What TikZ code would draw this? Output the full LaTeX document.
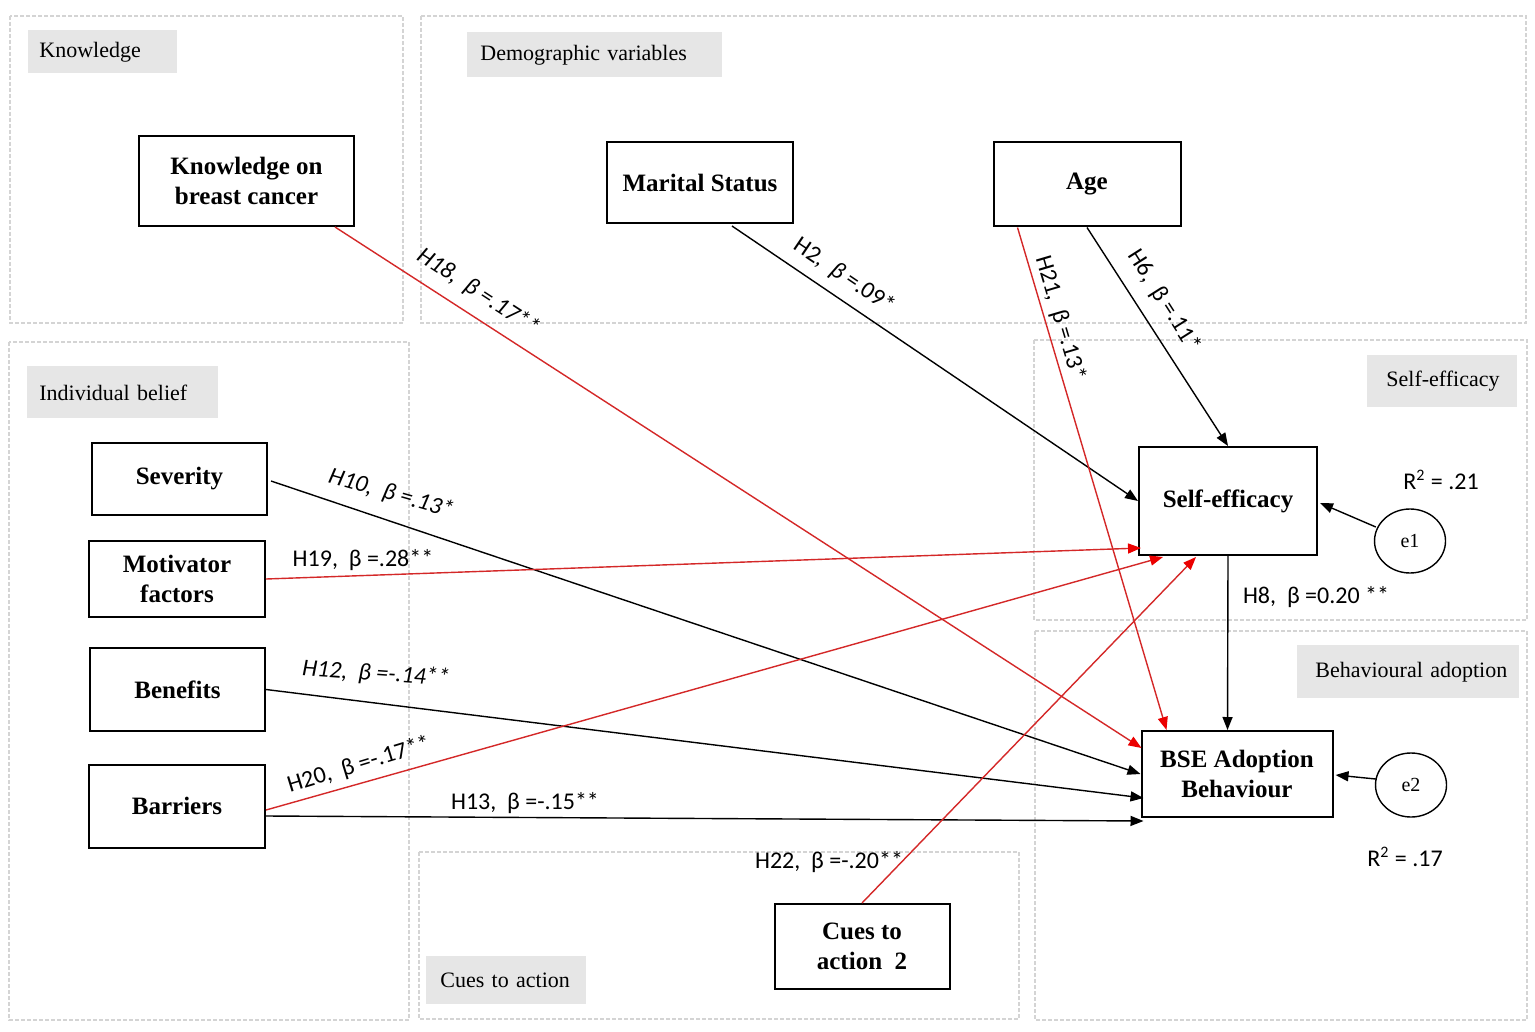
\documentclass[tikz,border=0pt]{standalone}
\usepackage{fontspec}
\setmainfont{Liberation Serif}
\newfontfamily\lblfont{Carlito}
\usetikzlibrary{arrows.meta,calc,shapes.geometric}
\definecolor{redln}{RGB}{212,40,40}
\definecolor{redtip}{RGB}{235,0,0}
\definecolor{grpfill}{RGB}{230,230,230}
\definecolor{grpline}{RGB}{212,212,212}
\begin{document}
\begin{tikzpicture}[x=0.5pt,y=-0.5pt,
  varbox/.style={draw,line width=1pt,inner sep=0pt,align=center,font=\fontsize{12.5}{15}\selectfont\bfseries},
  region/.style={draw=grpline,dash pattern=on 2pt off 1pt,line width=0.6pt},
  grplabel/.style={fill=grpfill,anchor=north west,align=left,inner xsep=0pt,inner ysep=0pt,font=\fontsize{11}{13}\selectfont},
  errnode/.style={draw,ellipse,line width=0.7pt,minimum width=35.5pt,minimum height=32pt,inner sep=0pt,font=\fontsize{10}{12}\selectfont},
  blk/.style={-{Triangle[length=6.5pt,width=5pt]},line width=0.7pt},
  redarr/.style={draw=redln,line width=0.7pt,-{Triangle[length=6.5pt,width=5pt,color=redtip]}},
  elab/.style={font=\lblfont\fontsize{12}{14}\selectfont,inner sep=0pt},
]
\useasboundingbox[fill=white] (0,0) rectangle (1535,1032);

% regions
\draw[region] (10,16) rectangle (403,323);
\draw[region] (421,16) rectangle (1526,323);
\draw[region] (9,342) rectangle (409,1020);
\draw[region] (1034,340) rectangle (1527,620);
\draw[region] (1035,631) rectangle (1527,1020);
\draw[region] (419,852) rectangle (1019,1019);

% region labels
\node[grplabel,text width=74.5pt,minimum height=21.5pt] (lknow) at (28,30) {\hspace*{5.5pt}Knowledge};
\node[grplabel,text width=127.5pt,minimum height=22.5pt] (ldemo) at (467,32) {\hspace*{6.5pt}Demographic variables};
\node[grplabel,text width=95.5pt,minimum height=26pt] (lind) at (27,366) {\hspace*{6pt}Individual belief};
\node[grplabel,text width=75pt,minimum height=26pt] (lse) at (1367,355) {\hspace*{9.5pt}Self-efficacy};
\node[grplabel,text width=111pt,minimum height=26.5pt] (lbeh) at (1297,645) {\hspace*{9pt}Behavioural adoption};
\node[grplabel,text width=80pt,minimum height=24pt] (lcue) at (426,956) {\hspace*{7pt}Cues to action};

% variable boxes
\node[varbox,minimum width=107.5pt,minimum height=45pt] (know) at (246.5,181) {Knowledge on\\breast cancer};
\node[varbox,minimum width=93pt,minimum height=40.5pt] (mar) at (700,182.5) {Marital Status};
\node[varbox,minimum width=93.5pt,minimum height=42pt] (age) at (1087,184.5) {Age};
\node[varbox,minimum width=87.5pt,minimum height=36pt] (sev) at (179.5,479) {Severity};
\node[varbox,minimum width=88pt,minimum height=38pt] (mot) at (177,579) {Motivator\\factors};
\node[varbox,minimum width=87.5pt,minimum height=41.5pt] (ben) at (177.5,689.5) {Benefits};
\node[varbox,minimum width=88pt,minimum height=41.5pt] (bar) at (177,806) {Barriers};
\node[varbox,minimum width=89pt,minimum height=54pt] (se) at (1228,501) {Self-efficacy};
\node[varbox,minimum width=95.5pt,minimum height=43pt] (bse) at (1237,774) {BSE Adoption\\Behaviour};
\node[varbox,minimum width=87.5pt,minimum height=42.5pt] (cue) at (862,946.5) {Cues to\\action\ \ 2};
\node[errnode] (e1) at (1410,541) {e1};
\node[errnode] (e2) at (1411,785) {e2};

% connectors
\draw[redarr] ($(know.south east)+(-20,0)$) -- ($(bse.north west)+(1,18)$);
\draw[blk] ($(mar.south)+(32,2)$) -- (se.west);
\draw[blk] (age.south) -- (se.north);
\draw[redarr] ($(age.south west)+(25,0)$) -- ($(bse.north west)+(26,0)$);
\draw[blk] ($(sev.east)+(3,2)$) -- (bse.west);
\draw[redarr] (mot.east) -- ($(se.south west)+(3,-8)$);
\draw[blk] (ben.east) -- ($(bse.south west)+(3,-20)$);
\draw[redarr] ($(bar.east)+(0,4)$) -- ($(se.south west)+(25,1)$);
\draw[blk] ($(bar.east)+(0,10)$) -- ($(bse.south west)+(3,3)$);
\draw[redarr] (cue.north) -- ($(se.south west)+(58,1)$);
\draw[blk] (se.south) -- ($(bse.north west)+(87,0)$);
\draw[blk] ($(e1.west)+(2,-14)$) -- ($(se.east)+(2,2)$);
\draw[blk] ($(e2.west)+(1,-6)$) -- ($(bse.east)+(2,1)$);

% connector labels
\node[elab,rotate=-33] (l18) at (478,292) {\itshape H18,\ \ β =.17**};
\node[elab,rotate=-34] (l2) at (844,276) {H2,\ \ \textit{β} =.09*};
\node[elab,rotate=-73.5] (l21) at (1060,318) {H21,\ \ β =.13*};
\node[elab,rotate=-57.5] (l6) at (1164,301) {H6,\ \ β =.11*};
\node[elab,rotate=-16] (l10) at (391,494) {\itshape H10,\ \ β =.13*};
\node[elab] (l19) at (363,560) {H19,\ \ β =.28**};
\node[elab,rotate=-4] (l12) at (376,674) {\itshape H12,\ \ β =-.14**};
\node[elab,rotate=17] (l20) at (359,765) {H20,\ \ β =-.17**};
\node[elab] (l13) at (525,803) {H13,\ \ β =-.15**};
\node[elab] (l22) at (829,862) {H22,\ \ β =-.20**};
\node[elab] (l8) at (1316,597) {H8,\ \ β =0.20 **};
\node[elab] (r1) at (1441,480) {R\textsuperscript{2} = .21};
\node[elab] (r2) at (1405,857) {R\textsuperscript{2} = .17};
\end{tikzpicture}
\end{document}
